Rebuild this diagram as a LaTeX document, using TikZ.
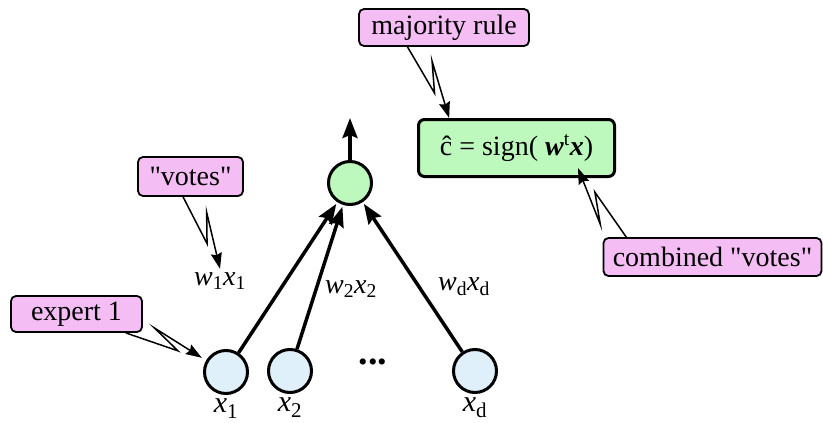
\documentclass[tikz,border=0pt]{standalone}
\usepackage{fontspec}
\setmainfont{Liberation Serif}
\usetikzlibrary{positioning, arrows.meta, calc}

\definecolor{inblue}{HTML}{DFF0FB}
\definecolor{outgreen}{HTML}{BDF8BD}
\definecolor{notepink}{HTML}{F4BDF4}

\begin{document}
\begin{tikzpicture}[
		x=1pt, y=-1pt,
		font=\fontsize{28}{30}\selectfont,
		unit/.style={circle, draw, line width=3pt, minimum size=43pt, inner sep=0pt},
		input/.style={unit, fill=inblue},
		note/.style={draw, fill=notepink, line width=1.8pt, rounded corners=5pt, inner sep=0pt},
		rulebox/.style={draw, fill=outgreen, line width=3pt, rounded corners=6pt, inner sep=0pt,
			minimum width=196pt, minimum height=57pt},
		wire/.style={line width=3.5pt, -{Stealth[length=20pt, width=15pt, inset=3pt]}},
		zap/.style={line width=1.5pt, -{Stealth[length=16pt, width=11pt, inset=2pt]},
			to path={-- ($(\tikztostart)!0.65!(\tikztotarget)$)
				-- ($(\tikztostart)!0.3!(\tikztotarget)!14pt!90:(\tikztotarget)$)
				-- (\tikztotarget) \tikztonodes}}
		]
		\useasboundingbox (0,0) rectangle (823,423);
		
		% --- units ---
		\node[unit, fill=outgreen] (out) at (350,183) {};
		\node[input] (in1) at (226,372) {};
		\node[input] (in2) at (290,371) {};
		\node[input] (ind) at (475,371) {};
		\node[font=\fontsize{38}{40}\selectfont\bfseries] (dots) at (373,362) {...};
		\coordinate (top) at (350,118);
		
		% input names
		\node[inner sep=0pt, below=4pt of in1, font=\fontsize{30}{32}\selectfont] {\textit{x}\textsubscript{1}};
		\node[inner sep=0pt, below=4pt of in2, font=\fontsize{30}{32}\selectfont] {\textit{x}\textsubscript{2}};
		\node[inner sep=0pt, below=4pt of ind, font=\fontsize{30}{32}\selectfont] {\textit{x}\textsubscript{d}};
		
		% weighted inputs
		\node (w1) at (220,281) {\textit{w}\textsubscript{1}\textit{x}\textsubscript{1}};
		\node (w2) at (351,289) {\textit{w}\textsubscript{2}\textit{x}\textsubscript{2}};
		\node (wd) at (464,287) {\textit{w}\textsubscript{d}\textit{x}\textsubscript{d}};
		
		\draw[wire, shorten >=2pt] (in1) -- (out);
		\draw[wire, shorten >=2pt] (in2) -- (out);
		\draw[wire, shorten >=2pt] (ind) -- (out);
		\draw[wire] (out) -- (top);
		
		% --- decision ---
		\node[rulebox] (rule) at (516.5,148)
		{\^c = sign( \textbf{\textit{w}}\textsuperscript{t}\textbf{\textit{x}})};
		\coordinate (vtip) at (578,168);
		
		% --- callouts ---
		\node[note, minimum width=170pt, minimum height=37pt] (majority) at (444,27.5) {majority rule};
		\node[note, minimum width=105pt, minimum height=39pt] (votes) at (190.5,176.5) {\textquotedbl votes\textquotedbl};
		\node[note, minimum width=131pt, minimum height=36pt] (expert) at (76.5,314) {expert 1};
		\node[note, minimum width=218pt, minimum height=38pt] (combined) at (712.5,257) {combined \textquotedbl votes\textquotedbl};
		
		\draw[zap] (majority.208) to (rule.156);
		\draw[zap] (votes.250) to (w1.north);
		\draw[zap, shorten >=5pt] (expert.339) to (in1.150);
		\draw[zap] (combined.167) to (vtip);
		
	\end{tikzpicture}
\end{document}
